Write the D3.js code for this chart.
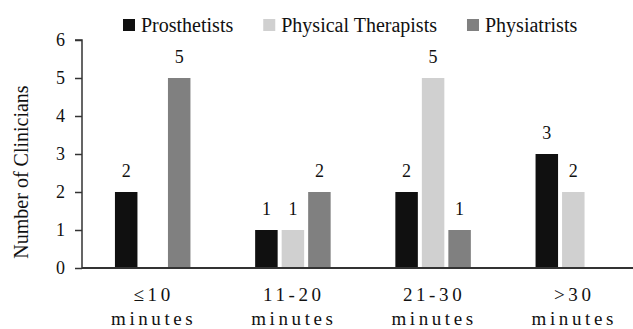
<!DOCTYPE html>
<html><head><meta charset="utf-8">
<script src="https://cdn.jsdelivr.net/npm/d3@7"></script>
<style>body{margin:0;background:#fff}svg{display:block}</style>
</head><body>
<script>
const categories = ["≤10|minutes", "11-20|minutes", "21-30|minutes", ">30|minutes"];
const seriesNames = ["Prosthetists", "Physical Therapists", "Physiatrists"];
const prosthetists = [2, 1, 2, 3];
const physicalTherapists = [0, 1, 5, 2];
const physiatrists = [5, 2, 1, 0];
const yTicks = [0, 1, 2, 3, 4, 5, 6];
const colors = ["#101010", "#d0d0d0", "#808080"];

const seriesValues = [prosthetists, physicalTherapists, physiatrists];
const W = 633, H = 329;
const FONT = "Liberation Serif, Times New Roman, serif";
const svg = d3.select("body").append("svg").attr("width", W).attr("height", H)
  .attr("font-family", FONT);

const y = d3.scaleLinear().domain([0, 6]).range([268, 40]);
const x0 = d3.scaleBand().domain(categories).range([82.6, 82.6 + 4 * 140.2]).padding(0);
const bw = x0.bandwidth();
const x1 = d3.scaleBand().domain(seriesNames).range([bw / 2 - 37.75, bw / 2 + 37.75]).paddingInner(0.151).paddingOuter(0);

// bars
categories.forEach((c, ci) => {
  seriesNames.forEach((s, si) => {
    const v = seriesValues[si][ci];
    if (!v) return;
    const bx = x0(c) + x1(s);
    svg.append("rect").attr("x", bx).attr("y", y(v))
      .attr("width", x1.bandwidth()).attr("height", y(0) - y(v))
      .attr("fill", colors[si]);
    svg.append("text").attr("x", bx + x1.bandwidth() / 2).attr("y", y(v) - 15)
      .attr("text-anchor", "middle").attr("font-family", FONT).attr("font-size", 18)
      .attr("fill", "#111").text(v);
  });
});

// y axis
const yAxis = d3.axisLeft(y).tickValues(yTicks).tickFormat(d3.format("d")).tickSize(7).tickPadding(10);
const gy = svg.append("g").attr("transform", "translate(82,0)").call(yAxis);
gy.attr("font-family", FONT);
gy.select(".domain").attr("stroke", "#333").attr("stroke-width", 1.5).attr("d", "M-7,40H0V268");
gy.selectAll(".tick line").attr("stroke", "#333").attr("stroke-width", 1.5);
gy.selectAll(".tick text").attr("font-family", FONT).attr("font-size", 18).attr("fill", "#111");

// x axis line
svg.append("line").attr("x1", 82).attr("x2", 633).attr("y1", y(0)).attr("y2", y(0))
  .attr("stroke", "#333").attr("stroke-width", 1.8);

// x labels
categories.forEach(c => {
  const parts = c.split("|");
  const cx = x0(c) + bw / 2 + 1;
  parts.forEach((p, i) => {
    svg.append("text").attr("x", cx).attr("y", i === 0 ? 301 : 325)
      .attr("text-anchor", "middle").attr("font-family", FONT).attr("font-size", 19)
      .attr("letter-spacing", 3.6).attr("fill", "#111").text(p);
  });
});

// y title
svg.append("text").attr("transform", "translate(28,172) rotate(-90)")
  .attr("text-anchor", "middle").attr("font-family", FONT).attr("font-size", 20)
  .attr("fill", "#111").text("Number of Clinicians");

// legend
let lx = 123;
seriesNames.forEach((s, i) => {
  svg.append("rect").attr("x", lx).attr("y", 19).attr("width", 12).attr("height", 12).attr("fill", colors[i]);
  const t = svg.append("text").attr("x", lx + 18).attr("y", 32).attr("font-family", FONT)
    .attr("font-size", 20).attr("fill", "#111").text(s);
  lx = lx + 18 + t.node().getComputedTextLength() + 30;
});
</script>
</body></html>
